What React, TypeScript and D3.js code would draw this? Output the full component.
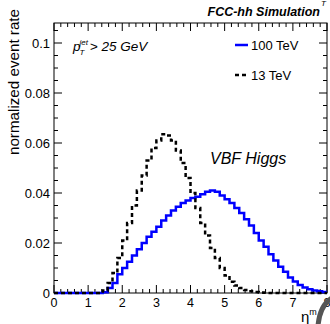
import React from "react";
import * as d3 from "d3";

const binWidth = 1 / 7;
const nBins = 56;
const vbf100 = [
  0, 0, 0, 0, 0, 0, 0, 0, 0, 0,
  0.0003, 0.002, 0.004, 0.0075, 0.01, 0.0125, 0.015, 0.0175, 0.02, 0.0225,
  0.0245, 0.0265, 0.029, 0.031, 0.033, 0.0345, 0.036, 0.037, 0.038, 0.0385,
  0.0395, 0.0405, 0.041, 0.0405, 0.039, 0.0375, 0.036, 0.034, 0.032, 0.0295,
  0.027, 0.024, 0.021, 0.0185, 0.0155, 0.013, 0.0105, 0.0085, 0.0062, 0.0046,
  0.0032, 0.0022, 0.0015, 0.001, 0.0007, 0.0004,
];
const vbf13 = [
  0, 0, 0, 0, 0, 0, 0, 0, 0, 0,
  0.001, 0.004, 0.008, 0.014, 0.021, 0.028, 0.035, 0.041, 0.047, 0.053,
  0.058, 0.061, 0.0635, 0.063, 0.061, 0.057, 0.052, 0.046, 0.04, 0.034,
  0.028, 0.023, 0.018, 0.014, 0.01, 0.007, 0.0045, 0.003, 0.002, 0.0012,
  0.0007, 0.0004, 0.0002, 0.0001, 0, 0, 0, 0, 0, 0,
  0, 0, 0, 0, 0, 0,
];
const xTicks = [0, 1, 2, 3, 4, 5, 6, 7, 8];
const yTicks = [0, 0.02, 0.04, 0.06, 0.08, 0.1];
const yTickLabels = ["0", "0.02", "0.04", "0.06", "0.08", "0.1"];

const L = 54, R = 327, T = 23, B = 293;
const x = d3.scaleLinear().domain([0, 8]).range([L, R]);
const y = d3.scaleLinear().domain([0, 0.108]).range([B, T]);

function stepPath(vals: number[]) {
  const pts: [number, number][] = [];
  vals.slice(0, nBins).forEach((v, i) => {
    pts.push([i * binWidth, v]);
    pts.push([(i + 1) * binWidth, v]);
  });
  return d3.line<[number, number]>().x((d) => x(d[0])).y((d) => y(d[1]))(pts) || "";
}

export default function App() {
  const font = "'Liberation Sans', Arial, Helvetica, sans-serif";
  const xMinor = d3.range(0, 8.0001, 0.2);
  const yMinor = d3.range(0, 0.1051, 0.005);
  return (
    <svg width={330} height={324} style={{ position: "absolute", left: 0, top: 0, background: "#fff" }} fontFamily={font}>
      <rect x={0} y={0} width={330} height={324} fill="#fff" />
      {xMinor.map((t, i) => {
        const major = Math.abs(t - Math.round(t)) < 1e-6;
        const len = major ? 8 : 4;
        return (
          <g key={"xt" + i} stroke="#000" strokeWidth={1}>
            <line x1={x(t)} x2={x(t)} y1={B} y2={B - len} />
            <line x1={x(t)} x2={x(t)} y1={T} y2={T + len} />
          </g>
        );
      })}
      {yMinor.map((t, i) => {
        const major = Math.abs(t / 0.02 - Math.round(t / 0.02)) < 1e-6;
        const len = major ? 8 : 4;
        return (
          <g key={"yt" + i} stroke="#000" strokeWidth={1}>
            <line x1={L} x2={L + len} y1={y(t)} y2={y(t)} />
            <line x1={R} x2={R - len} y1={y(t)} y2={y(t)} />
          </g>
        );
      })}
      <rect x={L} y={T} width={R - L} height={B - T} fill="none" stroke="#000" strokeWidth={1} />
      {xTicks.map((t) => (
        <text key={"xl" + t} x={x(t)} y={B + 14} fontSize={12.5} textAnchor="middle">{t}</text>
      ))}
      {yTicks.map((t, i) => (
        <text key={"yl" + t} x={L - 4} y={y(t) + 4.5} fontSize={13} textAnchor="end">{yTickLabels[i]}</text>
      ))}
      <text transform={`translate(19,9) rotate(-90)`} fontSize={15.2} textAnchor="end">normalized event rate</text>
      <path d={stepPath(vbf100)} fill="none" stroke="#0000ff" strokeWidth={2.5} />
      <path d={stepPath(vbf13)} fill="none" stroke="#000" strokeWidth={2.5} strokeDasharray="4,3" />
      <text x={73} y={51} fontSize={13.5} fontStyle="italic">
        p<tspan fontSize={8} dy={4} dx={-1}>T</tspan>
        <tspan fontSize={8} dy={-10} dx={-5}>jet</tspan>
        <tspan dy={6} dx={2}>{"> 25 GeV"}</tspan>
      </text>
      <line x1={235} x2={248} y1={45} y2={45} stroke="#0000ff" strokeWidth={2.5} />
      <text x={251} y={50} fontSize={13}>100 TeV</text>
      <line x1={235} x2={248} y1={75} y2={75} stroke="#000" strokeWidth={2.5} strokeDasharray="4,3" />
      <text x={251} y={80} fontSize={13}>13 TeV</text>
      <text x={210} y={164} fontSize={16} fontStyle="italic">VBF Higgs</text>
      <text x={320} y={16} fontSize={12.5} fontStyle="italic" fontWeight="bold" textAnchor="end">FCC-hh Simulation</text>
      <text x={321} y={6} fontSize={8} fontStyle="italic">T</text>
      <text x={301} y={322} fontSize={15}>η<tspan fontSize={9} dy={-7}>m</tspan></text>
      <path d="M 336 296 Q 320 302 318 326" fill="none" stroke="#555" strokeWidth={5} />
    </svg>
  );
}
